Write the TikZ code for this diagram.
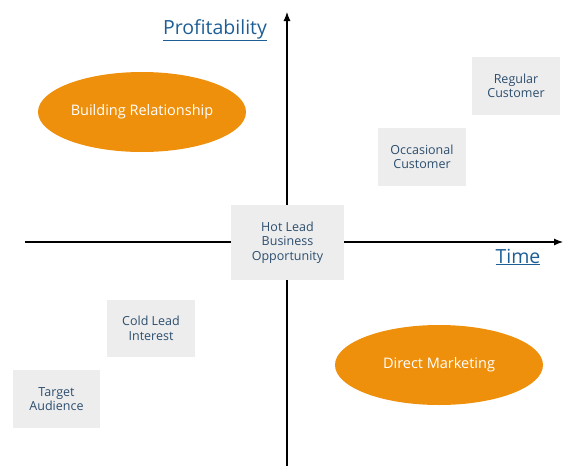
\documentclass[tikz,border=0pt]{standalone}
\usepackage{fontspec}
\setmainfont{Open Sans}
\usetikzlibrary{arrows.meta,shapes.geometric}
\definecolor{orangeE}{HTML}{EF900C}
\definecolor{boxgray}{HTML}{EDEDED}
\definecolor{txtblue}{HTML}{2C4E6E}
\definecolor{headblue}{HTML}{1D5E96}
\tikzset{
  axis/.style={line width=1.1pt,-{Latex[length=9pt,width=7pt]}},
  oval/.style={ellipse,fill=orangeE,minimum width=208pt,minimum height=80pt,inner sep=0pt,text=white,font=\fontsize{14.5}{16}\selectfont},
  greybox/.style={rectangle,fill=boxgray,inner sep=0pt,align=center,text=txtblue,font=\fontsize{12.5}{14.5}\selectfont},
  heading/.style={text=headblue,font=\fontsize{19.5}{22}\selectfont,inner sep=0pt}
}
\begin{document}
\begin{tikzpicture}[x=1pt,y=-1pt]
\useasboundingbox (0,0) rectangle (579,472);
\coordinate (vb) at (287,466);
\coordinate (vt) at (287,12);
\coordinate (hl) at (25,242);
\coordinate (hr) at (563,242);
\draw[axis] (vb) -- (vt);
\draw[axis] (hl) -- (hr);
\node[greybox,minimum width=113pt,minimum height=75pt] (hot) at (287.5,242.5) {Hot Lead\\Business\\Opportunity};
\node[greybox,minimum width=88pt,minimum height=58pt] (reg) at (516,86) {Regular\\Customer};
\node[greybox,minimum width=88pt,minimum height=58pt] (occ) at (422,157) {Occasional\\Customer};
\node[greybox,minimum width=88pt,minimum height=57pt] (cold) at (151,328.5) {Cold Lead\\Interest};
\node[greybox,minimum width=87pt,minimum height=58pt] (tgt) at (56.5,399) {Target\\Audience};
\node[oval] (br) at (142,112) {Building Relationship};
\node[oval] (dm) at (439,365) {Direct Marketing};
\node[heading] (prof) at (215,30) {\underline{Profitability}};
\node[heading] (time) at (518,257) {\underline{Time}};
\end{tikzpicture}
\end{document}
